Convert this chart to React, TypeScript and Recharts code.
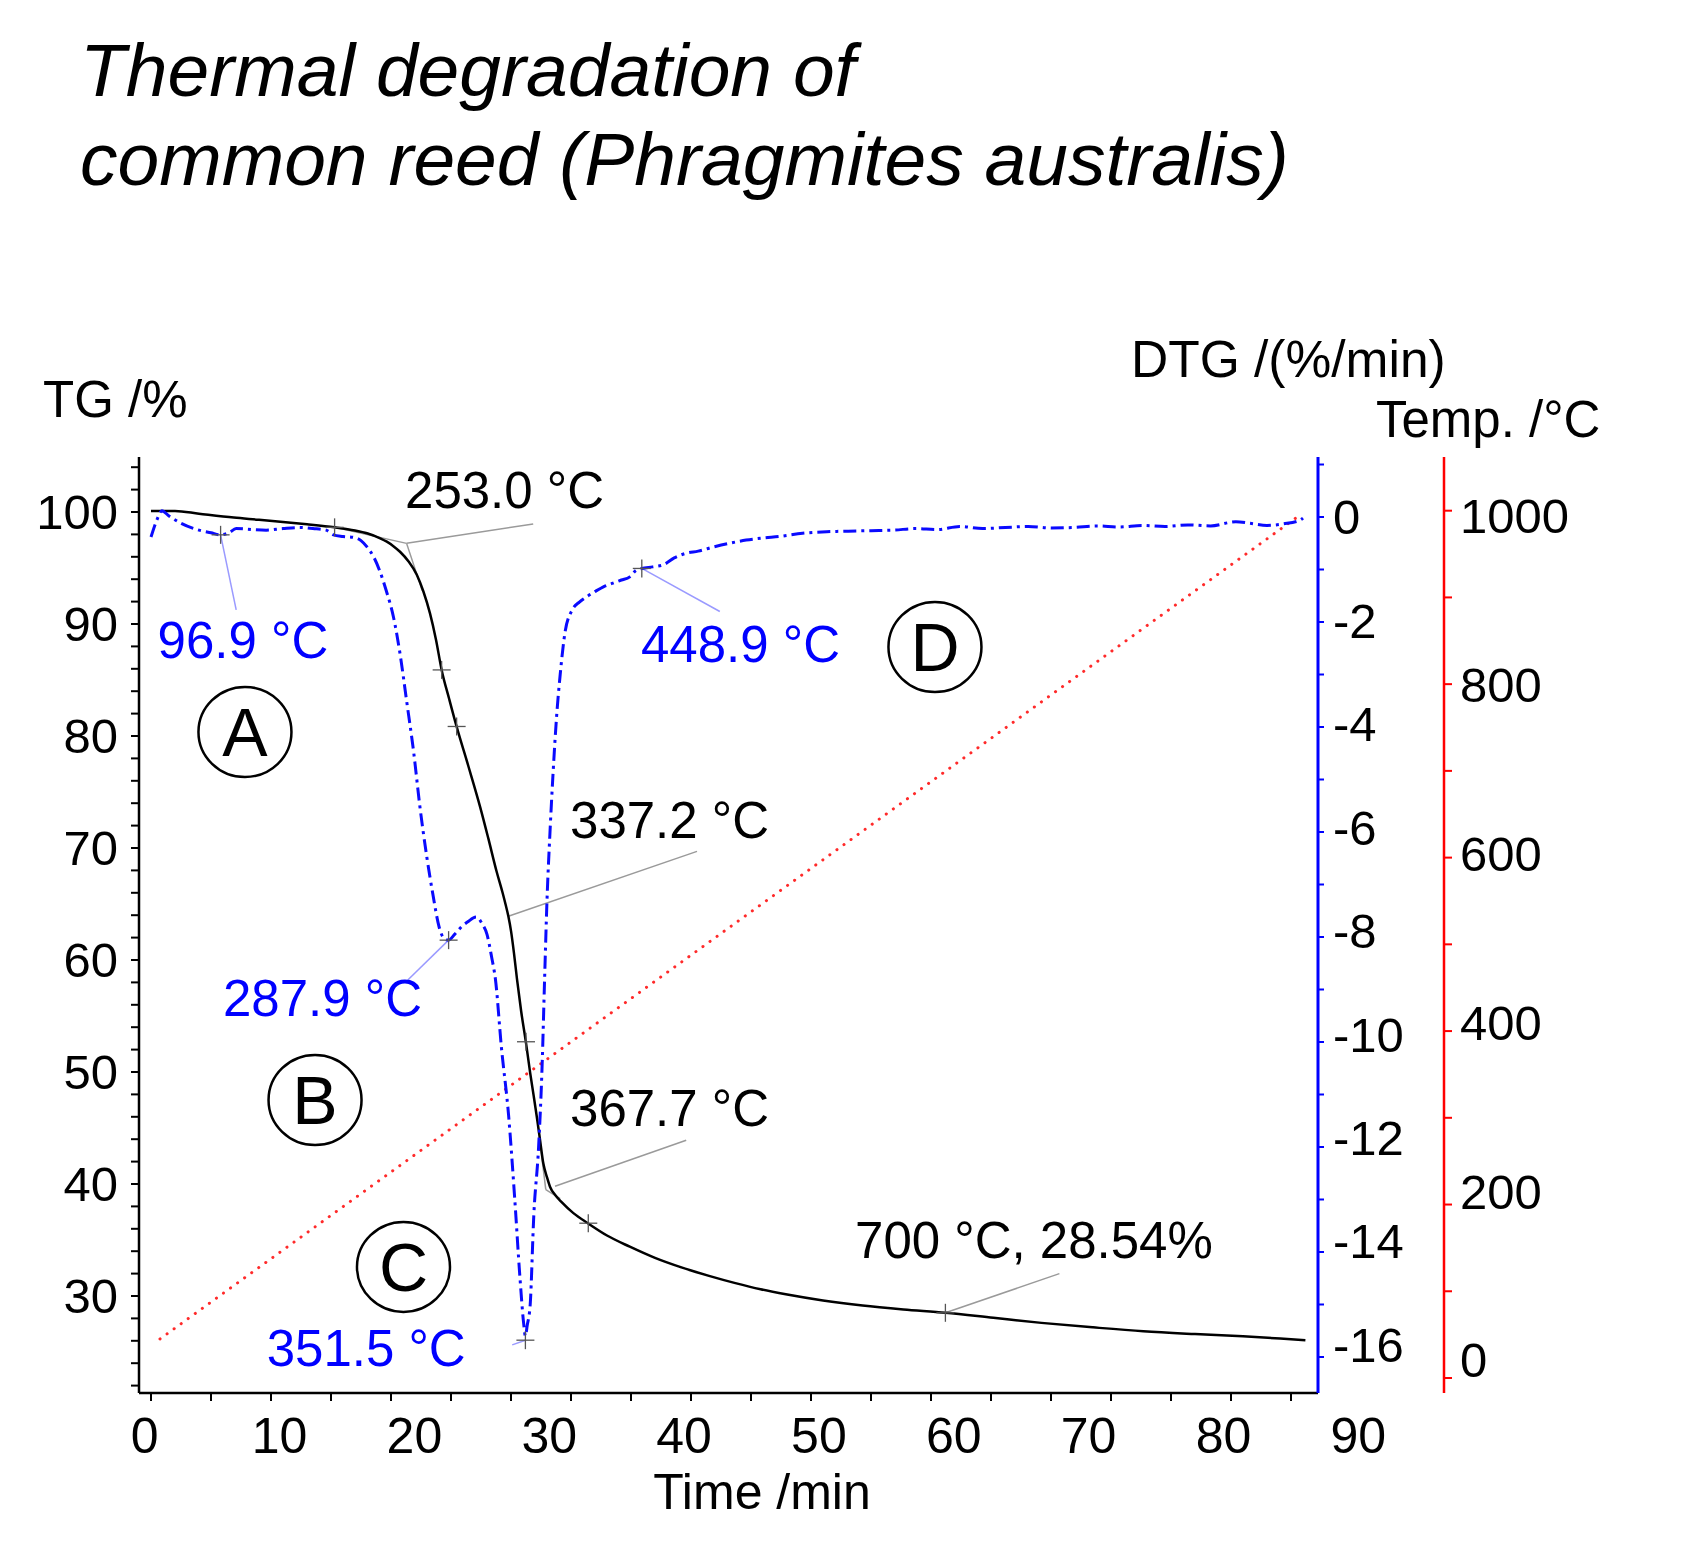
import React from 'react';
import { LineChart, Line, XAxis, YAxis, ReferenceLine, ReferenceDot } from 'recharts';

const FONT = '"Liberation Sans", Arial, Helvetica, sans-serif';

// ---------- data ----------
// TG curve (time in min, mass in %)
const tgTime = [0, 2, 4, 6.9, 9, 11, 13, 15.3, 17, 18, 19.1, 19.65, 20.2, 20.75, 21.45, 22.15, 22.7, 23.25, 23.75, 24.22, 24.85, 25.47, 26.45, 27.42, 28.1, 28.8, 29.3, 29.55, 29.78, 30.0, 30.25, 30.5, 30.85, 31.25, 31.6, 31.9, 32.15, 32.4, 32.7, 33.0, 33.25, 33.7, 34.2, 35.2, 36.4, 38.0, 39.9, 42.0, 44.2, 46.5, 48.7, 50.8, 52.9, 56.0, 59.3, 62.7, 66.2, 70.2, 74.2, 78.5, 82.7, 87.0, 91.0, 94.1, 96.2];
const tgMass = [100.1, 100.1, 99.85, 99.5, 99.3, 99.1, 98.9, 98.63, 98.35, 98.1, 97.65, 97.35, 96.95, 96.45, 95.6, 94.4, 92.9, 90.95, 88.6, 85.9, 83.3, 80.83, 77.3, 73.7, 70.9, 67.9, 66.0, 64.95, 63.9, 62.6, 60.6, 58.3, 55.4, 52.6, 49.9, 47.8, 46.0, 44.1, 41.8, 40.6, 39.76, 39.0, 38.4, 37.4, 36.5, 35.4, 34.4, 33.4, 32.55, 31.8, 31.15, 30.6, 30.15, 29.6, 29.15, 28.8, 28.5, 28.05, 27.6, 27.2, 26.85, 26.6, 26.4, 26.2, 26.05];

// DTG curve (time in min, %/min)
const dtgTime = [0, 0.5, 0.9, 1.5, 2.5, 4.0, 5.0, 5.8, 6.5, 7.1, 8.5, 9.6, 11.0, 12.4, 13.5, 14.6, 15.2, 16.0, 16.9, 17.5, 18.0, 18.6, 19.1, 19.6, 20.2, 20.75, 21.3, 21.9, 22.4, 23.0, 23.5, 24.0, 24.4, 24.8, 25.3, 25.9, 26.4, 27.1, 27.6, 28.0, 28.4, 28.7, 29.2, 29.8, 30.3, 30.75, 31.05, 31.2, 31.35, 31.6, 31.9, 32.3, 32.6, 32.8, 33.0, 33.25, 33.5, 33.8, 34.1, 34.5, 35.1, 35.7, 36.3, 37.0, 37.7, 38.5, 39.2, 39.9, 40.4, 40.9, 41.8, 42.7, 43.6, 44.6, 45.6, 46.9, 48.2, 49.6, 51.0, 52.4, 54.3, 56.3, 58.1, 60.0, 61.9, 63.7, 65.5, 67.4, 69.3, 71.2, 73.1, 75.0, 76.9, 78.8, 80.7, 82.6, 84.5, 86.4, 88.3, 90.4, 91.6, 93.0, 94.4, 95.75, 96.0];
const dtgRate = [-0.38, -0.05, 0.12, 0.02, -0.12, -0.25, -0.3, -0.34, -0.3, -0.22, -0.24, -0.25, -0.22, -0.2, -0.22, -0.25, -0.34, -0.37, -0.39, -0.45, -0.57, -0.78, -1.05, -1.4, -1.9, -2.6, -3.5, -4.5, -5.5, -6.5, -7.2, -7.8, -8.02, -8.06, -7.95, -7.8, -7.71, -7.62, -7.75, -7.95, -8.4, -8.8, -10.1, -11.4, -12.95, -14.5, -15.35, -15.6, -15.4, -15.0, -13.3, -12.0, -10.4, -8.8, -7.3, -6.0, -4.9, -3.8, -3.0, -2.2, -1.77, -1.62, -1.52, -1.42, -1.33, -1.26, -1.2, -1.14, -1.02, -0.98, -0.95, -0.91, -0.78, -0.69, -0.65, -0.57, -0.5, -0.44, -0.4, -0.37, -0.31, -0.28, -0.27, -0.26, -0.25, -0.22, -0.24, -0.18, -0.22, -0.2, -0.18, -0.21, -0.2, -0.17, -0.19, -0.16, -0.18, -0.15, -0.17, -0.09, -0.12, -0.16, -0.13, -0.06, -0.02];

// Temperature programme (time in min, °C)
const tempTime = [0.75, 95.75];
const tempValue = [45, 995];

// axis ticks and tick labels
const timeTicks = [0, 5, 10, 15, 20, 25, 30, 35, 40, 45, 50, 55, 60, 65, 70, 75, 80, 85, 90, 95];
const timeLabels = [0, 10, 20, 30, 40, 50, 60, 70, 80, 90];
const tgTicks = [22, 24, 26, 28, 30, 32, 34, 36, 38, 40, 42, 44, 46, 48, 50, 52, 54, 56, 58, 60, 62, 64, 66, 68, 70, 72, 74, 76, 78, 80, 82, 84, 86, 88, 90, 92, 94, 96, 98, 100, 102, 104];
const dtgTicks = [-16, -15, -14, -13, -12, -11, -10, -9, -8, -7, -6, -5, -4, -3, -2, -1, 0, 1];
const dtgLabels = [-16, -14, -12, -10, -8, -6, -4, -2, 0];
const tempTicks = [0, 100, 200, 300, 400, 500, 600, 700, 800, 900, 1000];
const tempLabels = [0, 200, 400, 600, 800, 1000];

// axis ranges (tick marks and the hand-placed tick labels of the original figure)
const timeDomain = [-1.0, 97.25];
const timeLabelDomain = [-0.4227, 87.01];
const tgDomain = [21.339, 104.911];
const dtgDomain = [-16.686, 1.1429];
const dtgLabelDomain = [-16.94, 1.16];
const tempDomain = [-17.3, 1061.9];
const tempLabelDomain = [-39.1, 1069.6];

// annotation anchors (data coordinates)
const tgCrosses = [
  { t: 15.3, v: 98.63 },
  { t: 24.22, v: 85.9 },
  { t: 25.47, v: 80.85 },
  { t: 31.25, v: 52.7 },
  { t: 36.44, v: 36.5 },
  { t: 66.2, v: 28.5 },
];
const dtgCrosses = [
  { t: 5.8, v: -0.34 },
  { t: 24.8, v: -8.06 },
  { t: 31.2, v: -15.68 },
  { t: 40.9, v: -0.98 },
];
const tgLeaders = [
  { x1: 15.3, y1: 98.63, x2: 21.3, y2: 97.2 },
  { x1: 21.3, y1: 97.2, x2: 22.6, y2: 93.0 },
  { x1: 21.3, y1: 97.2, x2: 31.85, y2: 98.93 },
  { x1: 29.78, y1: 63.9, x2: 45.5, y2: 69.7 },
  { x1: 32.36, y1: 44.2, x2: 32.9, y2: 39.5 },
  { x1: 32.9, y1: 39.5, x2: 34.1, y2: 38.7 },
  { x1: 33.67, y1: 39.8, x2: 44.6, y2: 43.9 },
  { x1: 66.2, y1: 28.5, x2: 75.7, y2: 32.0 },
];
const dtgLeaders = [
  { x1: 5.8, y1: -0.34, x2: 7.1, y2: -1.77 },
  { x1: 24.8, y1: -8.06, x2: 21.4, y2: -8.82 },
  { x1: 31.2, y1: -15.68, x2: 30.1, y2: -15.77 },
  { x1: 40.9, y1: -0.98, x2: 47.4, y2: -1.8 },
];
const tgNotes = [
  { text: '253.0 °C', t: 21.17, v: 100.36 },
  { text: '337.2 °C', t: 34.92, v: 70.89 },
  { text: '367.7 °C', t: 34.92, v: 45.18 },
  { text: '700 °C, 28.54%', t: 58.67, v: 33.39 },
];
const dtgNotes = [
  { text: '96.9 °C', t: 0.55, v: -2.69 },
  { text: '287.9 °C', t: 6.0, v: -9.5 },
  { text: '351.5 °C', t: 9.64, v: -16.17 },
  { text: '448.9 °C', t: 40.83, v: -2.76 },
];
const regions = [
  { letter: 'A', t: 7.83, v: 80.36 },
  { letter: 'B', t: 13.67, v: 47.5 },
  { letter: 'C', t: 21.04, v: 32.6 },
  { letter: 'D', t: 65.33, v: 87.95 },
];

const tgData = tgTime.map((t, i) => ({ t, tg: tgMass[i] }));
const dtgData = dtgTime.map((t, i) => ({ t, dtg: dtgRate[i] }));
const tempData = tempTime.map((t, i) => ({ t, temp: tempValue[i] }));
const labelRows = timeLabels.map((v) => ({ lab: v }));

const crossShape = (props: any) => {
  const { cx, cy } = props;
  return (
    <g>
      <line x1={cx - 9} y1={cy} x2={cx + 9} y2={cy} stroke="#555" strokeWidth={1.3} />
      <line x1={cx} y1={cy - 9} x2={cx} y2={cy + 9} stroke="#555" strokeWidth={1.3} />
    </g>
  );
};

const noteShape = (text: string, color: string) => (props: any) => (
  <text x={props.cx} y={props.cy} fill={color} fontSize={51} fontFamily={FONT}>
    {text}
  </text>
);

const regionShape = (letter: string) => (props: any) => (
  <g>
    <ellipse cx={props.cx} cy={props.cy} rx={46.5} ry={45} fill="none" stroke="#000" strokeWidth={2.5} />
    <text x={props.cx} y={props.cy + 24} textAnchor="middle" fill="#000" fontSize={68} fontFamily={FONT}>
      {letter}
    </text>
  </g>
);

const tickText = { fill: '#000', fontSize: 49, fontFamily: FONT };
const rightText = { fill: '#000', fontSize: 49, fontFamily: FONT, textAnchor: 'start' };
const labelText = { fill: '#000', fontSize: 50, fontFamily: FONT };
const blackAxis = { stroke: '#000', strokeWidth: 2.5 };
const blackTick = { stroke: '#000', strokeWidth: 2 };
const blueAxis = { stroke: '#0000ff', strokeWidth: 3 };
const blueTick = { stroke: '#0000ff', strokeWidth: 2 };
const redAxis = { stroke: '#ff0000', strokeWidth: 2.5 };
const redTick = { stroke: '#ff0000', strokeWidth: 2 };
const noLabel = () => '';
const tgFmt = (v: number) => (v % 10 === 0 ? String(v) : '');

export default function App() {
  return (
    <div style={{ position: 'absolute', left: 0, top: 0, width: 1708, height: 1549, background: '#fff', fontFamily: FONT }}>
      <LineChart
        width={1708}
        height={1549}
        data={labelRows}
        margin={{ top: 457, left: 19, right: 64, bottom: 55 }}
      >
        <XAxis
          xAxisId="t"
          type="number"
          dataKey="t"
          domain={timeDomain}
          allowDataOverflow
          ticks={timeTicks}
          interval={0}
          height={101}
          tickFormatter={noLabel}
          tickSize={8}
          axisLine={blackAxis}
          tickLine={blackTick}
        />
        <XAxis
          xAxisId="lab"
          type="number"
          dataKey="lab"
          orientation="bottom"
          mirror
          domain={timeLabelDomain}
          allowDataOverflow
          ticks={timeLabels}
          interval={0}
          height={40}
          axisLine={false}
          tickLine={false}
          tickSize={0}
          tickMargin={-60}
          tick={labelText}
        />
        <YAxis
          yAxisId="tg"
          orientation="left"
          width={120}
          type="number"
          domain={tgDomain}
          allowDataOverflow
          ticks={tgTicks}
          interval={0}
          tickFormatter={tgFmt}
          tickSize={8}
          tickMargin={13}
          axisLine={blackAxis}
          tickLine={blackTick}
          tick={tickText}
        />
        <YAxis
          yAxisId="dtg"
          orientation="right"
          width={126}
          type="number"
          domain={dtgDomain}
          allowDataOverflow
          ticks={dtgTicks}
          interval={0}
          tickFormatter={noLabel}
          tickSize={6}
          axisLine={blueAxis}
          tickLine={blueTick}
        />
        <YAxis
          yAxisId="temp"
          orientation="right"
          width={200}
          type="number"
          domain={tempDomain}
          allowDataOverflow
          ticks={tempTicks}
          interval={0}
          tickFormatter={noLabel}
          tickSize={8}
          axisLine={redAxis}
          tickLine={redTick}
        />
        <YAxis
          yAxisId="dtgLab"
          orientation="right"
          mirror
          width={40}
          type="number"
          domain={dtgLabelDomain}
          allowDataOverflow
          ticks={dtgLabels}
          interval={0}
          axisLine={false}
          tickLine={false}
          tickSize={0}
          tickMargin={-15}
          tick={rightText}
        />
        <YAxis
          yAxisId="tempLab"
          orientation="right"
          mirror
          width={40}
          type="number"
          domain={tempLabelDomain}
          allowDataOverflow
          ticks={tempLabels}
          interval={0}
          axisLine={false}
          tickLine={false}
          tickSize={0}
          tickMargin={-182}
          tick={rightText}
        />

        {tgLeaders.map((s, i) => (
          <ReferenceLine
            key={'tl' + i}
            xAxisId="t"
            yAxisId="tg"
            segment={[{ x: s.x1, y: s.y1 }, { x: s.x2, y: s.y2 }]}
            stroke="#9a9a9a"
            strokeWidth={1.5}
            ifOverflow="visible"
          />
        ))}
        {dtgLeaders.map((s, i) => (
          <ReferenceLine
            key={'dl' + i}
            xAxisId="t"
            yAxisId="dtg"
            segment={[{ x: s.x1, y: s.y1 }, { x: s.x2, y: s.y2 }]}
            stroke="#9a9aff"
            strokeWidth={1.5}
            ifOverflow="visible"
          />
        ))}

        <Line
          xAxisId="t"
          yAxisId="temp"
          data={tempData}
          dataKey="temp"
          type="linear"
          stroke="#ff2a2a"
          strokeWidth={3}
          strokeDasharray="0.1 8.6"
          strokeLinecap="round"
          dot={false}
          activeDot={false}
          isAnimationActive={false}
        />
        <Line
          xAxisId="t"
          yAxisId="tg"
          data={tgData}
          dataKey="tg"
          type="monotone"
          stroke="#000"
          strokeWidth={2.5}
          dot={false}
          activeDot={false}
          isAnimationActive={false}
        />
        <Line
          xAxisId="t"
          yAxisId="dtg"
          data={dtgData}
          dataKey="dtg"
          type="monotone"
          stroke="#0a0aff"
          strokeWidth={3}
          strokeDasharray="13 5 3 5"
          dot={false}
          activeDot={false}
          isAnimationActive={false}
        />

        {tgCrosses.map((c, i) => (
          <ReferenceDot key={'tc' + i} xAxisId="t" yAxisId="tg" x={c.t} y={c.v} ifOverflow="visible" shape={crossShape} />
        ))}
        {dtgCrosses.map((c, i) => (
          <ReferenceDot key={'dc' + i} xAxisId="t" yAxisId="dtg" x={c.t} y={c.v} ifOverflow="visible" shape={crossShape} />
        ))}
        {tgNotes.map((n, i) => (
          <ReferenceDot key={'tn' + i} xAxisId="t" yAxisId="tg" x={n.t} y={n.v} ifOverflow="visible" shape={noteShape(n.text, '#000')} />
        ))}
        {dtgNotes.map((n, i) => (
          <ReferenceDot key={'dn' + i} xAxisId="t" yAxisId="dtg" x={n.t} y={n.v} ifOverflow="visible" shape={noteShape(n.text, '#0000ff')} />
        ))}
        {regions.map((r, i) => (
          <ReferenceDot key={'rg' + i} xAxisId="t" yAxisId="tg" x={r.t} y={r.v} ifOverflow="visible" shape={regionShape(r.letter)} />
        ))}
      </LineChart>

      <svg
        width={1708}
        height={1549}
        style={{ position: 'absolute', left: 0, top: 0, pointerEvents: 'none' }}
      >
        <text x={80} y={96} fontSize={75} fontStyle="italic" fontFamily={FONT} fill="#000">
          Thermal degradation of
        </text>
        <text x={80} y={185} fontSize={75} fontStyle="italic" fontFamily={FONT} fill="#000">
          common reed (Phragmites australis)
        </text>
        <text x={43} y={417} fontSize={51} fontFamily={FONT} fill="#000">
          TG /%
        </text>
        <text x={1131} y={377} fontSize={51.5} fontFamily={FONT} fill="#000">
          DTG /(%/min)
        </text>
        <text x={1376} y={437} fontSize={51} fontFamily={FONT} fill="#000">
          Temp. /°C
        </text>
        <text x={762} y={1509} fontSize={50} textAnchor="middle" fontFamily={FONT} fill="#000">
          Time /min
        </text>
      </svg>
    </div>
  );
}
